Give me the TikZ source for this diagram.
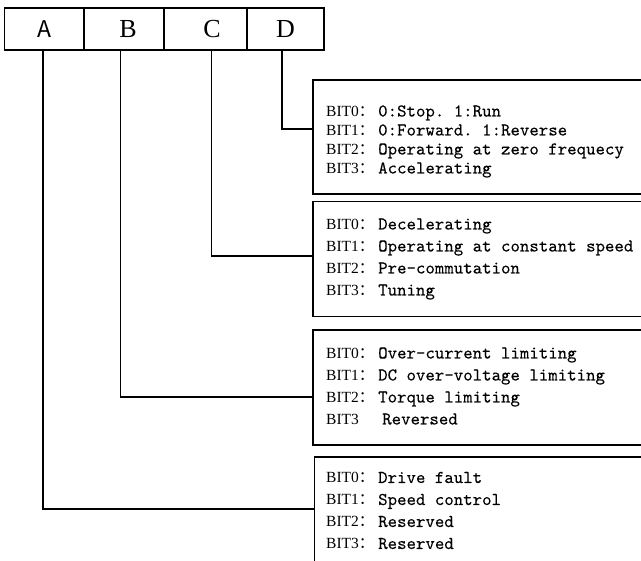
\documentclass[tikz,border=0pt]{standalone}
\usepackage{fontspec}
\setmainfont{Liberation Serif}
\newfontfamily\cjk{Noto Sans CJK SC}
\newfontfamily\descfont[FakeBold=0.1]{lmmono10-regular.otf}
\usetikzlibrary{positioning}

% BITn：description
\newcommand{\bitline}[2]{\makebox[52pt][l]{#1{\cjk ：}}{\descfont\fontsize{18}{20}\selectfont\frenchspacing #2}}

\begin{document}
\begin{tikzpicture}[
    x=1pt, y=-1pt,
    cell/.style={draw, line width=1.6pt, minimum height=42pt, inner sep=0pt, font=\fontsize{26}{28}\selectfont},
    infobox/.style={draw, line width=1.6pt, minimum width=400pt, anchor=north west, inner sep=0pt},
    bit/.style={anchor=base west, inner sep=0pt, font=\fontsize{15.5}{17}\selectfont},
    link/.style={line width=1.6pt}
]
    \useasboundingbox (0,0) rectangle (641,561);
    \clip (0,0) rectangle (641,561);

    % 状态字
    \node[cell, minimum width=79.5pt] (A) at (44.25,29) {\cjk\fontsize{23}{25}\selectfont A};
    \node[cell, minimum width=80pt] (B) at (124,29) {\hspace{8pt}B};
    \node[cell, minimum width=83pt] (C) at (205.5,29) {\hspace{13pt}C};
    \node[cell, minimum width=77pt] (D) at (285.5,29) {D};

    % D
    \begin{scope}[shift={(312,79)}]
        \node[infobox, minimum height=114pt] (boxD) at (0,0) {};
        \node[bit] (d0) at (14,37.5) {\bitline{BIT0}{0:Stop. 1:Run}};
        \node[bit] (d1) at (14,56.5) {\bitline{BIT1}{0:Forward. 1:Reverse}};
        \node[bit] (d2) at (14,75.5) {\bitline{BIT2}{Operating at zero frequecy}};
        \node[bit] (d3) at (14,94.5) {\bitline{BIT3}{Accelerating}};
    \end{scope}

    % C
    \begin{scope}[shift={(312,200.7)}]
        \node[infobox, minimum height=115pt] (boxC) at (0,0) {};
        \node[bit] (c0) at (14,28.8) {\bitline{BIT0}{Decelerating}};
        \node[bit] (c1) at (14,50.8) {\bitline{BIT1}{Operating at constant speed}};
        \node[bit] (c2) at (14,72.8) {\bitline{BIT2}{Pre-commutation}};
        \node[bit] (c3) at (14,94.8) {\bitline{BIT3}{Tuning}};
    \end{scope}

    % B
    \begin{scope}[shift={(312,329)}]
        \node[infobox, minimum height=115pt] (boxB) at (0,0) {};
        \node[bit] (b0) at (14,29.5) {\bitline{BIT0}{Over-current limiting}};
        \node[bit] (b1) at (14,51.5) {\bitline{BIT1}{DC over-voltage limiting}};
        \node[bit] (b2) at (14,73.5) {\bitline{BIT2}{Torque limiting}};
        \node[bit] (b3) at (14,95.5) {\makebox[56pt][l]{BIT3}{\descfont\fontsize{18}{20}\selectfont Reversed}};
    \end{scope}

    % A
    \begin{scope}[shift={(313.7,456)}]
        \node[infobox, minimum height=144pt] (boxA) at (0,0) {};
        \node[bit] (a0) at (12.3,27) {\bitline{BIT0}{Drive fault}};
        \node[bit] (a1) at (12.3,49) {\bitline{BIT1}{Speed control}};
        \node[bit] (a2) at (12.3,71) {\bitline{BIT2}{Reserved}};
        \node[bit] (a3) at (12.3,93) {\bitline{BIT3}{Reserved}};
    \end{scope}

    \draw[link] ([xshift=-3.8]D.south) |- ([yshift=8]boxD.west);
    \draw[link] ([xshift=6]C.south) |- ([yshift=3]boxC.west);
    \draw[link] ([xshift=-3.5]B.south) |- ([yshift=-9.5]boxB.west);
    \draw[link] ([xshift=-1.5]A.south) |- ([yshift=20]boxA.west);
\end{tikzpicture}
\end{document}
